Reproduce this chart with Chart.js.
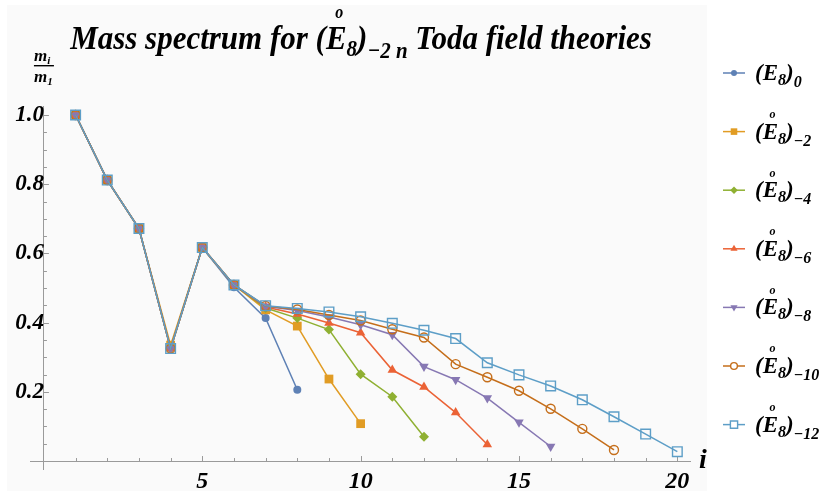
<!DOCTYPE html>
<html lang="en">
<head>
  <meta charset="UTF-8" />
  <title>Mass spectrum for Toda field theories</title>
  <script src="https://cdn.jsdelivr.net/npm/chart.js@4.4.3"></script>
  <style>
    body { margin: 0; background: #ffffff; }
    .chart-wrapper { position: relative; width: 833px; height: 491px; }
  </style>
</head>
<body>

<div class="chart-wrapper"><canvas id="massChart" width="833" height="491"></canvas></div>

<script>
  // m_i / m_1, index i starts at 1
  const indices = [1, 2, 3, 4, 5, 6, 7, 8, 9, 10, 11, 12, 13, 14, 15, 16, 17, 18, 19, 20];
  const e8_0   = [1.0, 0.812, 0.672, 0.327, 0.617, 0.502, 0.413, 0.206];
  const e8_m2  = [1.0, 0.812, 0.672, 0.335, 0.617, 0.509, 0.437, 0.390, 0.237, 0.108];
  const e8_m4  = [1.0, 0.812, 0.672, 0.325, 0.617, 0.509, 0.442, 0.413, 0.380, 0.251, 0.186, 0.070];
  const e8_m6  = [1.0, 0.812, 0.672, 0.325, 0.617, 0.509, 0.445, 0.425, 0.399, 0.371, 0.263, 0.214, 0.140, 0.048];
  const e8_m8  = [1.0, 0.812, 0.672, 0.325, 0.617, 0.509, 0.447, 0.435, 0.416, 0.394, 0.365, 0.273, 0.235, 0.182, 0.112, 0.042];
  const e8_m10 = [1.0, 0.812, 0.672, 0.325, 0.617, 0.509, 0.448, 0.438, 0.422, 0.406, 0.381, 0.357, 0.280, 0.242, 0.203, 0.151, 0.093, 0.032];
  const e8_m12 = [1.0, 0.812, 0.672, 0.325, 0.617, 0.509, 0.449, 0.441, 0.431, 0.417, 0.398, 0.378, 0.354, 0.284, 0.249, 0.217, 0.177, 0.128, 0.078, 0.027];

  const seriesValues = [e8_0, e8_m2, e8_m4, e8_m6, e8_m8, e8_m10, e8_m12];
  const seriesSubs = ['0', '\u22122', '\u22124', '\u22126', '\u22128', '\u221210', '\u221212'];
  const xTickLabels = [5, 10, 15, 20];
  const yTickLabels = [0.2, 0.4, 0.6, 0.8, 1.0];

  const colors = ['#5E81B5', '#E19C24', '#8FB032', '#EB6235', '#8778B3', '#C56E1A', '#5D9EC7'];
  const markers = [
    { style: 'circle', radius: 4, rot: 0, open: false },
    { style: 'rect', radius: 6.2, rot: 0, open: false },
    { style: 'rectRot', radius: 5, rot: 0, open: false },
    { style: 'triangle', radius: 5.5, rot: 0, open: false },
    { style: 'triangle', radius: 5.5, rot: 180, open: false },
    { style: 'circle', radius: 4.5, rot: 0, open: true },
    { style: 'rect', radius: 6.8, rot: 0, open: true }
  ];
  const plotBg = '#fafafa';
  const axisColor = '#9a9a9a';
  const serif = "'Liberation Serif', serif";
  const font = size => `italic bold ${size}px ${serif}`;

  const datasets = seriesValues.map((vals, s) => ({
    label: seriesSubs[s],
    data: vals.map((v, k) => ({ x: indices[k], y: v })),
    borderColor: colors[s],
    borderWidth: 1.5,
    pointStyle: markers[s].style,
    pointRadius: markers[s].radius,
    pointRotation: markers[s].rot,
    pointBackgroundColor: markers[s].open ? 'rgba(0,0,0,0)' : colors[s],
    pointBorderColor: colors[s],
    pointBorderWidth: markers[s].open ? 1.4 : 0,
    fill: false,
    tension: 0,
    order: seriesValues.length - s
  }));

  // text made of pieces: [text, size, shift down, ring over it]
  function richWidth(ctx, parts) {
    let w = 0;
    parts.forEach(p => { ctx.font = font(p[1]); w += ctx.measureText(p[0]).width; });
    return w;
  }
  function richText(ctx, parts, x, base, stretch = 1) {
    let cx = x;
    ctx.save();
    ctx.translate(0, base);
    ctx.scale(1, stretch);
    ctx.textAlign = 'left';
    ctx.textBaseline = 'alphabetic';
    parts.forEach(p => {
      ctx.font = font(p[1]);
      const pw = ctx.measureText(p[0]).width;
      ctx.fillText(p[0], cx, p[2]);
      if (p[3]) {
        ctx.font = font(Math.round(p[1] * 0.5));
        ctx.textAlign = 'center';
        ctx.fillText('o', cx + pw * 0.64, -p[1] * 0.9);
        ctx.textAlign = 'left';
      }
      cx += pw;
    });
    ctx.restore();
  }

  const decor = {
    id: 'decor',
    beforeDraw(chart) {
      const ctx = chart.ctx;
      ctx.save();
      ctx.fillStyle = plotBg;
      ctx.fillRect(7, 5, 700, 486);
      ctx.restore();
    },
    beforeDatasetsDraw(chart) {
      const { ctx, scales: { x, y } } = chart;
      const x0 = x.getPixelForValue(0), y0 = y.getPixelForValue(0);
      ctx.save();
      ctx.strokeStyle = axisColor;
      ctx.lineWidth = 1;
      ctx.beginPath();
      for (let i = 1; i <= 20; i++) {
        const px = Math.round(x.getPixelForValue(i)) + 0.5;
        ctx.moveTo(px, y0);
        ctx.lineTo(px, y0 - (i % 5 === 0 ? 5 : 3));
      }
      for (let k = 1; k <= 20; k++) {
        const py = Math.round(y.getPixelForValue(k * 0.05)) + 0.5;
        ctx.moveTo(x0, py);
        ctx.lineTo(x0 + (k % 4 === 0 ? 5 : 3), py);
      }
      ctx.stroke();
      ctx.restore();
    },
    afterDraw(chart) {
      const { ctx, scales: { x, y } } = chart;
      ctx.save();
      ctx.fillStyle = '#000';

      // title
      const title = [
        ['Mass spectrum for (', 31, 0], ['E', 31, 0, true], ['8', 21, 6], [')', 31, 0],
        ['\u22122 n', 21, 8], [' Toda field theories', 31, 0]
      ];
      richText(ctx, title, 361 - richWidth(ctx, title) / 2, 49, 1.12);

      // y label m_i / m_1
      const yl = x.getPixelForValue(0) - 10;
      richText(ctx, [['m', 17, 0], ['i', 11, 3]], yl, 61);
      ctx.fillRect(yl, 65, 20, 1.4);
      richText(ctx, [['m', 17, 0], ['1', 11, 3]], yl, 82);

      // x label
      ctx.font = font(28);
      ctx.fillText('i', x.right + 9, y.getPixelForValue(0) + 7);

      // legend
      chart.data.datasets.forEach((ds, s) => {
        const cy = 73 + s * 58.6;
        ctx.strokeStyle = ds.borderColor;
        ctx.lineWidth = 1.5;
        ctx.beginPath();
        ctx.moveTo(723, cy);
        ctx.lineTo(745, cy);
        ctx.stroke();
        ctx.fillStyle = markers[s].open ? '#ffffff' : ds.borderColor;
        ctx.strokeStyle = ds.borderColor;
        ctx.lineWidth = ds.pointBorderWidth;
        Chart.helpers.drawPoint(ctx, {
          pointStyle: ds.pointStyle, rotation: ds.pointRotation,
          radius: ds.pointRadius * 0.75, borderWidth: ds.pointBorderWidth
        }, 734, cy);
        ctx.fillStyle = '#000';
        richText(ctx, [['(', 23, 0], ['E', 23, 0, s > 0], ['8', 16, 5], [')', 23, 0], [seriesSubs[s], 16, 7]], 755, cy + 7);
      });
      ctx.restore();
    }
  };

  new Chart(document.getElementById('massChart').getContext('2d'), {
    type: 'line',
    data: { datasets },
    options: {
      responsive: false,
      animation: false,
      events: [],
      layout: { padding: { left: 30, right: 143, top: 106, bottom: 22 } },
      plugins: { legend: { display: false }, tooltip: { enabled: false } },
      scales: {
        x: {
          type: 'linear',
          position: { y: 0 },
          min: -0.44,
          max: 20.4,
          afterBuildTicks: axis => { axis.ticks = xTickLabels.map(v => ({ value: v })); },
          border: { color: axisColor, width: 1 },
          grid: { drawOnChartArea: false, drawTicks: false },
          ticks: { color: '#000', padding: 6, font: { family: serif, size: 24, style: 'italic', weight: 'bold' }, callback: v => String(v), maxRotation: 0 }
        },
        y: {
          type: 'linear',
          position: { x: 0 },
          min: -0.023,
          max: 1.026,
          afterBuildTicks: axis => { axis.ticks = yTickLabels.map(v => ({ value: v })); },
          border: { color: axisColor, width: 1 },
          grid: { drawOnChartArea: false, drawTicks: false },
          ticks: { color: '#000', padding: 7, font: { family: serif, size: 23, style: 'italic', weight: 'bold' }, callback: v => v.toFixed(1) }
        }
      }
    },
    plugins: [decor]
  });
</script>
</body>
</html>
